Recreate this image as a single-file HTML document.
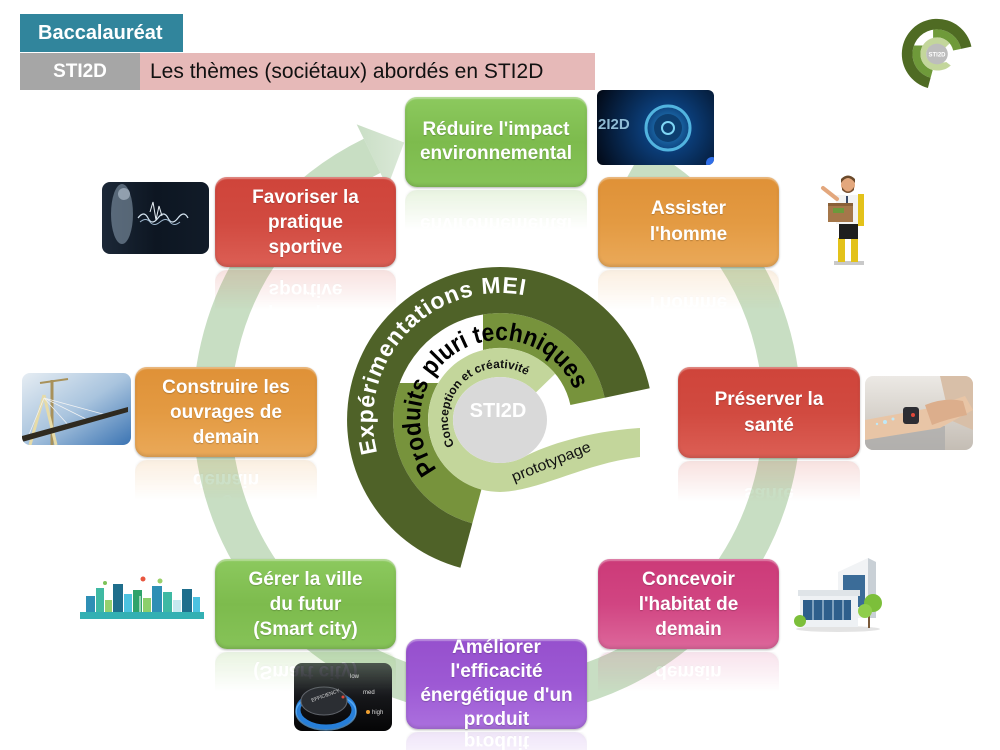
<!DOCTYPE html>
<html><head><meta charset="utf-8"><style>
html,body{margin:0;padding:0;}
body{width:1000px;height:750px;position:relative;overflow:hidden;background:#fff;font-family:"Liberation Sans",sans-serif;}
svg.bg{position:absolute;left:0;top:0;}
.hd{position:absolute;box-sizing:border-box;white-space:nowrap;}
.box{position:absolute;box-sizing:border-box;border-radius:12px;color:#fff;font-weight:bold;font-size:19px;line-height:25px;text-align:center;display:flex;align-items:center;justify-content:center;text-shadow:0 1px 1px rgba(0,0,0,.2);box-shadow:inset 0 2px 1px rgba(255,255,255,.35), inset 0 -2px 3px rgba(0,0,0,.12), 0 1px 2px rgba(0,0,0,.3);-webkit-box-reflect:below 3px linear-gradient(transparent 56%, rgba(255,255,255,.18));}
.g{background:linear-gradient(#8cc95e,#7dbb4d 50%,#86c358);}
.r{background:linear-gradient(#cf443a,#d14a40 50%,#dc5f55);}
.o{background:linear-gradient(#df9137,#e39a42 50%,#eaa959);}
.p{background:linear-gradient(#cc3a78,#d14582 50%,#dd679b);}
.v{background:linear-gradient(#9650cd,#9d59d4 50%,#ab70de);}
</style></head>
<body>
<svg class="bg" width="1000" height="750" viewBox="0 0 1000 750" xmlns="http://www.w3.org/2000/svg" xmlns:xlink="http://www.w3.org/1999/xlink">
<defs>
  <radialGradient id="g1" cx="668" cy="128" r="80" gradientUnits="userSpaceOnUse">
    <stop offset="0" stop-color="#2a8fd0"/><stop offset=".3" stop-color="#0b3d78"/><stop offset="1" stop-color="#020814"/>
  </radialGradient>
  <linearGradient id="g2" x1="0" y1="0" x2="1" y2="0">
    <stop offset="0" stop-color="#1c2837"/><stop offset=".5" stop-color="#0d1622"/><stop offset="1" stop-color="#111b28"/>
  </linearGradient>
  <linearGradient id="g4" x1="0" y1="0" x2="1" y2="1">
    <stop offset="0" stop-color="#e6edf3"/><stop offset=".5" stop-color="#a9c4de"/><stop offset="1" stop-color="#3b74b3"/>
  </linearGradient>
  <linearGradient id="g5" x1="0" y1="0" x2="0" y2="1">
    <stop offset="0" stop-color="#ece9e5"/><stop offset="1" stop-color="#c4bdb4"/>
  </linearGradient>
  <linearGradient id="g8" x1="0" y1="0" x2="0" y2="1">
    <stop offset="0" stop-color="#44474d"/><stop offset=".5" stop-color="#16171a"/><stop offset="1" stop-color="#050506"/>
  </linearGradient>
  <linearGradient id="ah" x1="356" y1="0" x2="405" y2="0" gradientUnits="userSpaceOnUse">
    <stop offset="0" stop-color="#c9dec5"/><stop offset="1" stop-color="#dbe9d8"/>
  </linearGradient>
  <clipPath id="c1"><rect x="597" y="90" width="117" height="75" rx="6"/></clipPath>
  <clipPath id="c2"><rect x="102" y="182" width="107" height="72" rx="8"/></clipPath>
  <clipPath id="c4"><rect x="22" y="373" width="109" height="72" rx="8"/></clipPath>
  <clipPath id="c5"><rect x="865" y="376" width="108" height="74" rx="8"/></clipPath>
  <clipPath id="c8"><rect x="294" y="663" width="98" height="68" rx="8"/></clipPath>
  <path id="pE" d="M 377.3 452.9 A 127 127 0 0 1 526.4 295.8"/>
  <path id="pP" d="M 437 469.3 A 80 80 0 1 1 574.7 391.3"/>
  <path id="pC" d="M 454.5 445.2 A 52 52 0 0 1 527.6 375.9"/>
</defs>

<!-- big circular arrow -->
<path d="M 635.2 162.7 A 285 285 0 1 1 372.1 155.8" fill="none" stroke="#c8dec3" stroke-width="38"/>
<polygon points="356.7,124.4 404.2,142.5 387.4,187.3" fill="url(#ah)"/>

<!-- center spiral -->
<path d="M 604.7 397.8 A 107 107 0 1 0 472.3 523.4 L 481.4 489.5 A 72 72 0 1 1 570.4 405.0 Z" fill="#77933c"/>
<rect x="397" y="300" width="86" height="83" fill="#fff"/>
<path d="M 649.7 388.2 A 153 153 0 1 0 460.4 567.8 L 472.3 523.4 A 107 107 0 1 1 604.7 397.8 Z" fill="#4f6228"/>
<path d="M 555.2 373.7 A 72 72 0 1 0 500 492 C 540 491 585 463 640 457 L 640 428 C 592 431 548 444 523.5 457.2 A 47 43 0 1 1 536 392.4 Z" fill="#c3d69b"/>
<ellipse cx="500" cy="420" rx="47" ry="43" fill="#d9d9d9"/>

<text font-family="Liberation Sans, sans-serif" font-weight="bold" font-size="23" fill="#fff"><textPath href="#pE" xlink:href="#pE" textLength="257" lengthAdjust="spacing">Expérimentations MEI</textPath></text>
<text font-family="Liberation Sans, sans-serif" font-weight="bold" font-size="25" fill="#000"><textPath href="#pP" xlink:href="#pP" textLength="273" lengthAdjust="spacingAndGlyphs">Produits pluri techniques</textPath></text>
<text font-family="Liberation Sans, sans-serif" font-weight="bold" font-size="12" fill="#111"><textPath href="#pC" xlink:href="#pC" textLength="136" lengthAdjust="spacingAndGlyphs">Conception et créativité</textPath></text>
<text x="514" y="482" transform="rotate(-22 514 482)" font-family="Liberation Sans, sans-serif" font-size="15" fill="#111" textLength="84" lengthAdjust="spacingAndGlyphs">prototypage</text>
<text x="498" y="417" text-anchor="middle" font-family="Liberation Sans, sans-serif" font-weight="bold" font-size="20" fill="#fff">STI2D</text>

<!-- logo -->
<g transform="translate(937 54) scale(0.23) translate(-500 -420)">
  <path d="M 604.7 397.8 A 107 107 0 1 0 472.3 523.4 L 481.4 489.5 A 72 72 0 1 1 570.4 405.0 Z" fill="#6f9a3a"/>
  <rect x="397" y="300" width="86" height="83" fill="#fff"/>
  <path d="M 649.7 388.2 A 153 153 0 1 0 460.4 567.8 L 472.3 523.4 A 107 107 0 1 1 604.7 397.8 Z" fill="#4f6b23"/>
  <path d="M 555.2 373.7 A 72 72 0 1 0 500 492 C 530 492 545 482 560 470 L 540 455 C 535 457 530 457 523.5 457.2 A 47 43 0 1 1 536 392.4 Z" fill="#c3d69b"/>
  <ellipse cx="500" cy="420" rx="47" ry="45" fill="#bdbdbd"/>
  <text x="500" y="430" text-anchor="middle" font-family="Liberation Sans, sans-serif" font-weight="bold" font-size="26" fill="#fff">STI2D</text>
</g>

<!-- image 1: Réduire -->
<g clip-path="url(#c1)">
  <rect x="597" y="90" width="117" height="75" fill="url(#g1)"/>
  <circle cx="668" cy="128" r="22" fill="none" stroke="#5ec8f0" stroke-width="3" opacity=".85"/>
  <circle cx="668" cy="128" r="14" fill="#0d3f70"/>
  <circle cx="668" cy="128" r="6" fill="none" stroke="#7fd6f5" stroke-width="2"/>
  <text x="598" y="129" font-family="Liberation Sans, sans-serif" font-weight="bold" font-size="15" fill="#a9d8ef" opacity=".85">2I2D</text>
  <circle cx="712" cy="163" r="6" fill="#2f6ee8"/>
</g>

<!-- image 2: sport -->
<g clip-path="url(#c2)">
  <rect x="102" y="182" width="107" height="72" fill="url(#g2)"/>
  <ellipse cx="122" cy="214" rx="11" ry="30" fill="#8ea2b4" opacity=".55"/>
  <circle cx="124" cy="194" r="6" fill="#aab8c6" opacity=".7"/>
  <path d="M138 218 q6 -8 10 0 t10 0 t10 0 t10 0 t10 0" fill="none" stroke="#d7e6f2" stroke-width="1.2"/>
  <path d="M140 222 q6 -5 10 0 t10 0 t10 0 t10 0" fill="none" stroke="#9fb8cf" stroke-width="1"/>
  <path d="M150 212 l3 -10 l3 18 l3 -14 l3 10" fill="none" stroke="#e8f0f6" stroke-width="1"/>
</g>

<!-- image 3: exoskeleton man -->
<g>
  <rect x="834" y="261" width="30" height="4" fill="#c9c9c9"/>
  <rect x="838" y="238" width="7" height="24" fill="#e3c21a"/>
  <rect x="851" y="238" width="7" height="24" fill="#e3c21a"/>
  <rect x="839" y="222" width="19" height="17" fill="#1e1e1e"/>
  <rect x="836" y="195" width="24" height="29" fill="#f3f3f3"/>
  <rect x="858" y="194" width="6" height="32" fill="#e3c21a"/>
  <rect x="846" y="196" width="2" height="24" fill="#3a4a6a"/>
  <rect x="828" y="203" width="25" height="19" fill="#a5774a"/>
  <rect x="828" y="203" width="25" height="3" fill="#8a6038"/>
  <rect x="833" y="208" width="11" height="5" fill="#6c9a3c"/>
  <circle cx="848" cy="185" r="7" fill="#e3a77d"/>
  <path d="M841 183 q7 -10 14 0 l0 -4 q-7 -7 -14 0 Z" fill="#6b4a2b"/>
  <path d="M842 187 q6 9 12 0 l0 3 q-6 6 -12 0 Z" fill="#7a5231"/>
  <path d="M837 199 L823 188" stroke="#e3a77d" stroke-width="4" stroke-linecap="round"/>
</g>

<!-- image 4: bridge -->
<g clip-path="url(#c4)">
  <rect x="22" y="373" width="109" height="72" fill="url(#g4)"/>
  <line x1="52" y1="380" x2="52" y2="445" stroke="#a8915a" stroke-width="3"/>
  <line x1="40" y1="383" x2="68" y2="379" stroke="#a8915a" stroke-width="2"/>
  <line x1="30" y1="445" x2="44" y2="395" stroke="#e6dba8" stroke-width="3"/>
  <line x1="56" y1="445" x2="44" y2="395" stroke="#e6dba8" stroke-width="3"/>
  <g stroke="#f3f3f3" stroke-width=".7">
    <line x1="44" y1="398" x2="70" y2="427"/><line x1="44" y1="398" x2="90" y2="421"/><line x1="44" y1="398" x2="110" y2="416"/>
    <line x1="44" y1="398" x2="28" y2="437"/>
  </g>
  <polygon points="22,436 128,407 128,412 22,442" fill="#2f2a20"/>
</g>

<!-- image 5: watch -->
<g clip-path="url(#c5)">
  <rect x="865" y="376" width="108" height="74" fill="url(#g5)"/>
  <rect x="865" y="426" width="80" height="24" fill="#a9a9a9" opacity=".7"/>
  <path d="M940 376 L973 376 L973 430 L950 420 Z" fill="#d8bfa8"/>
  <polygon points="865,420 930,408 965,396 973,410 940,428 865,440" fill="#e8c5a6"/>
  <path d="M925 405 q20 -8 38 -4 l4 14 q-20 4 -35 10 Z" fill="#dcae8c"/>
  <rect x="903" y="407" width="16" height="17" rx="3" fill="#2d2d33"/>
  <circle cx="913" cy="415" r="2" fill="#e0483a"/>
  <circle cx="885" cy="422" r="2" fill="#bfe8f7"/><circle cx="893" cy="419" r="1.5" fill="#bfe8f7"/><circle cx="877" cy="424" r="1.2" fill="#bfe8f7"/>
</g>

<!-- image 6: city -->
<g>
  <rect x="80" y="612" width="124" height="7" fill="#33b0b3"/>
  <rect x="86" y="596" width="9" height="16" fill="#2e8fb5"/>
  <rect x="96" y="588" width="8" height="24" fill="#3fb9a3"/>
  <rect x="105" y="600" width="7" height="12" fill="#95d06e"/>
  <rect x="113" y="584" width="10" height="28" fill="#1f6e8c"/>
  <rect x="124" y="594" width="8" height="18" fill="#4cc2e0"/>
  <rect x="133" y="590" width="9" height="22" fill="#2fa36b"/>
  <rect x="143" y="598" width="8" height="14" fill="#8ccf6b"/>
  <rect x="152" y="586" width="10" height="26" fill="#2e8fb5"/>
  <rect x="163" y="592" width="9" height="20" fill="#3fb9a3"/>
  <rect x="173" y="600" width="8" height="12" fill="#c7e8f0"/>
  <rect x="182" y="589" width="10" height="23" fill="#1f6e8c"/>
  <rect x="193" y="597" width="7" height="15" fill="#4cc2e0"/>
  <circle cx="143" cy="579" r="2.5" fill="#e8563f"/>
  <line x1="140" y1="612" x2="140" y2="596" stroke="#fff" stroke-width="1"/>
  <circle cx="160" cy="581" r="2.5" fill="#9ad06a"/>
  <circle cx="105" cy="583" r="2" fill="#7cc35a"/>
</g>

<!-- image 7: building -->
<g>
  <ellipse cx="838" cy="629" rx="42" ry="3" fill="#e3e3e3"/>
  <polygon points="838,572 868,558 876,562 876,618 838,618" fill="#f1f3f5"/>
  <polygon points="868,558 876,562 876,618 868,618" fill="#c9d0d6"/>
  <rect x="843" y="575" width="22" height="32" fill="#3b6c98"/>
  <rect x="798" y="590" width="62" height="6" fill="#dfe4e8"/>
  <rect x="800" y="596" width="58" height="31" fill="#eef1f4"/>
  <rect x="803" y="600" width="48" height="20" fill="#2e5f8c"/>
  <g stroke="#cfe0ee" stroke-width="1"><line x1="813" y1="600" x2="813" y2="620"/><line x1="823" y1="600" x2="823" y2="620"/><line x1="833" y1="600" x2="833" y2="620"/><line x1="843" y1="600" x2="843" y2="620"/></g>
  <rect x="868" y="612" width="2" height="16" fill="#7a5a3a"/>
  <circle cx="873" cy="603" r="9" fill="#7cbf3a"/>
  <circle cx="865" cy="611" r="7" fill="#8fce4a"/>
  <circle cx="800" cy="621" r="6" fill="#7cbf3a"/>
</g>

<!-- image 8: efficiency knob -->
<g clip-path="url(#c8)">
  <rect x="294" y="663" width="98" height="68" fill="url(#g8)"/>
  <ellipse cx="326" cy="710" rx="28" ry="17" fill="none" stroke="#2a8cf0" stroke-width="5" opacity=".9"/>
  <ellipse cx="326" cy="712" rx="30" ry="18" fill="none" stroke="#7cc4ff" stroke-width="1.5" opacity=".6"/>
  <ellipse cx="324" cy="701" rx="23" ry="14" fill="#2b2e33" stroke="#60646b" stroke-width="1"/>
  <text x="312" y="702" font-family="Liberation Sans, sans-serif" font-size="5" fill="#ddd" transform="rotate(-20 312 702)">EFFICIENCY</text>
  <text x="350" y="678" font-family="Liberation Sans, sans-serif" font-size="6" fill="#ddd">low</text>
  <text x="363" y="694" font-family="Liberation Sans, sans-serif" font-size="6" fill="#ddd">med</text>
  <text x="372" y="714" font-family="Liberation Sans, sans-serif" font-size="6" fill="#ddd">high</text>
  <circle cx="368" cy="712" r="2" fill="#f0a030"/>
  <circle cx="343" cy="697" r="1.5" fill="#e0483a"/>
</g>
</svg>

<!-- header -->
<div class="hd" style="left:20px;top:14px;width:163px;height:38px;background:#31859c;color:#fff;font-weight:bold;font-size:20px;line-height:38px;padding-left:18px;">Baccalauréat</div>
<div class="hd" style="left:20px;top:53px;width:120px;height:37px;background:#a6a6a6;color:#fff;font-weight:bold;font-size:19px;line-height:37px;text-align:center;">STI2D</div>
<div class="hd" style="left:140px;top:53px;width:455px;height:37px;background:#e6b9b8;color:#111;font-size:21px;line-height:37px;padding-left:10px;">Les thèmes (sociétaux) abordés en STI2D</div>

<!-- theme boxes -->
<div class="box g" style="left:405px;top:97px;width:182px;height:90px;line-height:24px;">Réduire l'impact<br>environnemental</div>
<div class="box r" style="left:215px;top:177px;width:181px;height:90px;">Favoriser la<br>pratique<br>sportive</div>
<div class="box o" style="left:598px;top:177px;width:181px;height:90px;line-height:26px;">Assister<br>l'homme</div>
<div class="box o" style="left:135px;top:367px;width:182px;height:90px;">Construire les<br>ouvrages de<br>demain</div>
<div class="box r" style="left:678px;top:367px;width:182px;height:91px;line-height:26px;">Préserver la<br>santé</div>
<div class="box g" style="left:215px;top:559px;width:181px;height:90px;">Gérer la ville<br>du futur<br>(Smart city)</div>
<div class="box p" style="left:598px;top:559px;width:181px;height:90px;">Concevoir<br>l'habitat de<br>demain</div>
<div class="box v" style="left:406px;top:639px;width:181px;height:90px;line-height:24px;">Améliorer<br>l'efficacité<br>énergétique d'un<br>produit</div>
</body></html>
